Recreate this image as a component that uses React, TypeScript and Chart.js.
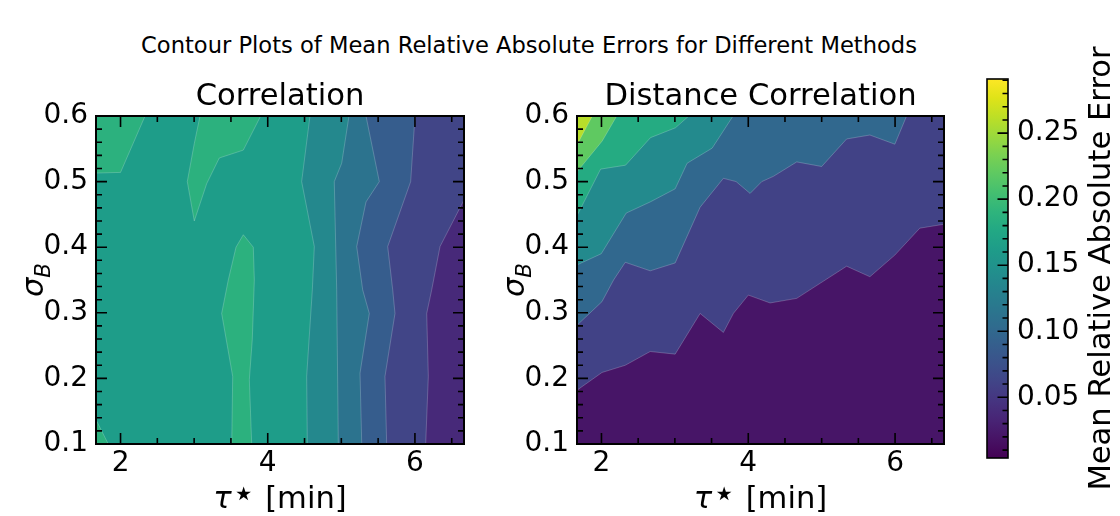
import React, { useEffect, useRef } from 'react';
import { Chart, registerables } from 'chart.js';

Chart.register(...registerables);

const FONT = "'DejaVu Sans', sans-serif";
Chart.defaults.font.family = FONT;
Chart.defaults.color = '#000';

type Pt = [number, number];

// ---------------- axes ----------------
const TAU_MIN = 5 / 3;
const TAU_MAX = 20 / 3;
const SIGMA_MIN = 0.1;
const SIGMA_MAX = 0.6;

const xTickLabels = [2, 4, 6];
const xMinorTicks = [2.5, 3, 3.5, 4.5, 5, 5.5, 6.5];
const yTickLabels = [0.1, 0.2, 0.3, 0.4, 0.5, 0.6];
const yMinorTicks = [
  0.12, 0.14, 0.16, 0.18, 0.22, 0.24, 0.26, 0.28, 0.32, 0.34,
  0.36, 0.38, 0.42, 0.44, 0.46, 0.48, 0.52, 0.54, 0.56, 0.58,
];

// ---------------- colour bar ----------------
const cbMin = 0.004;
const cbMax = 0.291;
const cbTickLabels = [0.05, 0.1, 0.15, 0.2, 0.25];
const cbMinorTicks = [
  0.01, 0.02, 0.03, 0.04, 0.06, 0.07, 0.08, 0.09, 0.11, 0.12, 0.13, 0.14,
  0.16, 0.17, 0.18, 0.19, 0.21, 0.22, 0.23, 0.24, 0.26, 0.27, 0.28, 0.29,
];

const viridis = [
  '#440154', '#471365', '#482475', '#463480', '#414487', '#3b528b', '#355f8d',
  '#2f6c8e', '#2a788e', '#25848e', '#21918c', '#1e9c89', '#22a884', '#2fb47c',
  '#44bf70', '#5ec962', '#7ad151', '#9bd93c', '#bddf26', '#dfe318', '#fde725',
];

// ---------------- Correlation panel (levels every 0.025) ----------------
const corrLevels = [0.025, 0.05, 0.075, 0.1, 0.125, 0.15, 0.175, 0.2];
// contour lines [tau, sigma], from bottom to top
const corrEdge050: Pt[] = [[6.146, 0.1], [6.182, 0.203], [6.16, 0.299], [6.228, 0.335], [6.341, 0.401], [6.667, 0.472]];
const corrEdge075: Pt[] = [[5.616, 0.1], [5.593, 0.203], [5.729, 0.299], [5.698, 0.335], [5.63, 0.401], [5.942, 0.5], [6.001, 0.6]];
const corrEdge100: Pt[] = [[5.277, 0.1], [5.254, 0.208], [5.38, 0.299], [5.29, 0.335], [5.209, 0.401], [5.335, 0.469], [5.516, 0.5], [5.335, 0.6]];
const corrEdge125: Pt[] = [[4.959, 0.1], [4.937, 0.335], [4.904, 0.5], [5.005, 0.528], [5.104, 0.6]];
const corrEdge150: Pt[] = [[4.538, 0.1], [4.529, 0.203], [4.606, 0.335], [4.633, 0.401], [4.461, 0.5], [4.574, 0.6]];
// islands above 0.175
const corrIsland1: Pt[] = [[1.667, 0.513], [2.0, 0.514], [2.333, 0.6], [1.667, 0.6]];
const corrIsland2: Pt[] = [[3.08, 0.6], [3.002, 0.558], [2.907, 0.5], [3.002, 0.44], [3.171, 0.497], [3.342, 0.536], [3.668, 0.548], [3.904, 0.6]];
const corrIsland3: Pt[] = [[3.511, 0.1], [3.524, 0.203], [3.374, 0.299], [3.464, 0.35], [3.569, 0.4], [3.668, 0.419], [3.804, 0.4], [3.818, 0.35], [3.79, 0.259], [3.75, 0.198], [3.782, 0.1]];
const corrIsland4: Pt[] = [[1.667, 0.1], [1.833, 0.1], [1.667, 0.137]];

// ---------------- Distance Correlation panel (levels every 0.04) ----------------
const dcorLevels = [0, 0.04, 0.08, 0.12, 0.16, 0.2, 0.24, 0.28];
// contour lines [tau, sigma], from left to right
const dcorEdge004: Pt[] = [[1.667, 0.182], [2.007, 0.209], [2.324, 0.22], [2.664, 0.241], [3.004, 0.237], [3.344, 0.299], [3.661, 0.27], [3.797, 0.299], [4.001, 0.327], [4.297, 0.315], [4.66, 0.322], [5.34, 0.371], [5.657, 0.355], [5.997, 0.388], [6.337, 0.429], [6.667, 0.435]];
const dcorEdge008: Pt[] = [[1.667, 0.281], [2.007, 0.317], [2.165, 0.35], [2.324, 0.377], [2.664, 0.364], [3.004, 0.376], [3.344, 0.461], [3.661, 0.505], [3.834, 0.5], [4.025, 0.482], [4.184, 0.5], [4.342, 0.508], [4.66, 0.53], [5.0, 0.523], [5.34, 0.565], [5.657, 0.571], [5.997, 0.557], [6.157, 0.6]];
const dcorEdge012: Pt[] = [[1.667, 0.373], [1.997, 0.39], [2.337, 0.452], [2.664, 0.469], [3.004, 0.489], [3.167, 0.528], [3.508, 0.551], [3.793, 0.6]];
const dcorEdge016: Pt[] = [[1.667, 0.448], [1.988, 0.519], [2.328, 0.525], [2.668, 0.567], [3.008, 0.582], [3.19, 0.6]];
const dcorEdge020: Pt[] = [[1.667, 0.515], [2.011, 0.562], [2.208, 0.6]];
const dcorEdge024: Pt[] = [[1.667, 0.556], [1.875, 0.6]];

// ---------------- helpers ----------------
function hexToRgb(h: string): number[] {
  return [1, 3, 5].map((i) => parseInt(h.slice(i, i + 2), 16));
}
function viridisAt(t: number): string {
  const c = Math.max(0, Math.min(1, t)) * (viridis.length - 1);
  const i = Math.min(viridis.length - 2, Math.floor(c));
  const f = c - i;
  const a = hexToRgb(viridis[i]);
  const b = hexToRgb(viridis[i + 1]);
  const m = a.map((v, k) => Math.round(v + (b[k] - v) * f));
  return `rgb(${m[0]},${m[1]},${m[2]})`;
}
function bandColor(levels: number[], k: number): string {
  const mid = (levels[k] + levels[k + 1]) / 2;
  return viridisAt((mid - cbMin) / (cbMax - cbMin));
}
const fullRect: Pt[] = [[TAU_MIN, SIGMA_MIN], [TAU_MAX, SIGMA_MIN], [TAU_MAX, SIGMA_MAX], [TAU_MIN, SIGMA_MAX]];
function superLevel(edge: Pt[]): Pt[] {
  const pts: Pt[] = [];
  const first = edge[0];
  const last = edge[edge.length - 1];
  if (first[0] > TAU_MIN + 1e-6) pts.push([TAU_MIN, first[1]]);
  pts.push(...edge);
  if (last[1] < SIGMA_MAX - 1e-6) pts.push([last[0], SIGMA_MAX]);
  pts.push([TAU_MIN, SIGMA_MAX]);
  return pts;
}

type Layer = { band: number; polys: Pt[][] };
const corrLayers: Layer[] = [
  { band: 0, polys: [fullRect] },
  { band: 1, polys: [superLevel(corrEdge050)] },
  { band: 2, polys: [superLevel(corrEdge075)] },
  { band: 3, polys: [superLevel(corrEdge100)] },
  { band: 4, polys: [superLevel(corrEdge125)] },
  { band: 5, polys: [superLevel(corrEdge150)] },
  { band: 6, polys: [corrIsland1, corrIsland2, corrIsland3, corrIsland4] },
];
const dcorLayers: Layer[] = [
  { band: 0, polys: [fullRect] },
  { band: 1, polys: [superLevel(dcorEdge004)] },
  { band: 2, polys: [superLevel(dcorEdge008)] },
  { band: 3, polys: [superLevel(dcorEdge012)] },
  { band: 4, polys: [superLevel(dcorEdge016)] },
  { band: 5, polys: [superLevel(dcorEdge020)] },
  { band: 6, polys: [superLevel(dcorEdge024)] },
];

type Part = { text: string; font: string; dy: number };
function drawParts(ctx: CanvasRenderingContext2D, parts: Part[], cx: number, baseY: number) {
  let total = 0;
  const widths = parts.map((p) => {
    ctx.font = p.font;
    const w = ctx.measureText(p.text).width;
    total += w;
    return w;
  });
  let x = cx - total / 2;
  ctx.textAlign = 'left';
  ctx.textBaseline = 'alphabetic';
  parts.forEach((p, i) => {
    ctx.font = p.font;
    ctx.fillText(p.text, x, baseY + p.dy);
    x += widths[i];
  });
}

const LABEL_SIZE = 30.6;
const MATH = `italic ${LABEL_SIZE}px 'DejaVu Sans'`;
const xLabelParts: Part[] = [
  { text: 'τ', font: MATH, dy: 0 },
  { text: '⋆', font: "38px 'DejaVu Sans'", dy: -2 },
  { text: ' [min]', font: `${LABEL_SIZE}px 'DejaVu Sans'`, dy: 0 },
];
const yLabelParts: Part[] = [
  { text: 'σ', font: MATH, dy: 0 },
  { text: 'B', font: `italic ${LABEL_SIZE * 0.7}px 'DejaVu Sans'`, dy: 6.5 },
];

function panelDecor(title: string) {
  return {
    id: 'panelDecor',
    afterDatasetsDraw(chart: any) {
      const { ctx, chartArea: a } = chart;
      const xs = chart.scales.x;
      const ys = chart.scales.y;
      ctx.save();
      ctx.strokeStyle = '#000';
      ctx.lineWidth = 1.6;
      ctx.beginPath();
      const xt = (v: number, len: number) => {
        const p = xs.getPixelForValue(v);
        ctx.moveTo(p, a.bottom); ctx.lineTo(p, a.bottom - len);
        ctx.moveTo(p, a.top); ctx.lineTo(p, a.top + len);
      };
      const yt = (v: number, len: number) => {
        const p = ys.getPixelForValue(v);
        ctx.moveTo(a.left, p); ctx.lineTo(a.left + len, p);
        ctx.moveTo(a.right, p); ctx.lineTo(a.right - len, p);
      };
      xTickLabels.forEach((v) => xt(v, 11));
      xMinorTicks.forEach((v) => xt(v, 6));
      yTickLabels.forEach((v) => yt(v, 11));
      yMinorTicks.forEach((v) => yt(v, 6));
      ctx.stroke();
      ctx.lineWidth = 2;
      ctx.strokeRect(a.left, a.top, a.right - a.left, a.bottom - a.top);
      ctx.restore();
    },
    afterDraw(chart: any) {
      const { ctx, chartArea: a } = chart;
      const cx = (a.left + a.right) / 2;
      ctx.save();
      ctx.fillStyle = '#000';
      ctx.font = `${LABEL_SIZE}px 'DejaVu Sans'`;
      ctx.textAlign = 'center';
      ctx.textBaseline = 'alphabetic';
      ctx.fillText(title, cx, 105);
      drawParts(ctx, xLabelParts, cx, 508);
      ctx.translate(a.left - 53, (a.top + a.bottom) / 2);
      ctx.rotate(-Math.PI / 2);
      drawParts(ctx, yLabelParts, 0, 0);
      ctx.restore();
    },
  };
}

function ContourPanel(props: { left: number; width: number; areaLeft: number; areaRight: number; title: string; levels: number[]; layers: Layer[] }) {
  const ref = useRef<HTMLCanvasElement>(null);
  useEffect(() => {
    const canvas = ref.current;
    if (!canvas) return;
    const datasets: any[] = [];
    props.layers.forEach((layer) => {
      layer.polys.forEach((poly) => {
        const idx = datasets.length;
        datasets.push({
          data: poly.map(([x, y]) => ({ x, y })),
          fill: 'shape',
          backgroundColor: bandColor(props.levels, layer.band),
          borderColor: 'rgba(255,255,255,0.3)',
          borderWidth: 0.7,
          pointRadius: 0,
          pointHoverRadius: 0,
          tension: 0,
          order: -idx,
        });
      });
    });
    const chart = new Chart(canvas, {
      type: 'line',
      data: { datasets },
      options: {
        responsive: false,
        animation: false,
        events: [],
        layout: { padding: { left: 0, right: props.width - props.areaRight, top: 116, bottom: 0 } },
        plugins: { legend: { display: false }, tooltip: { enabled: false }, title: { display: false } },
        scales: {
          x: {
            type: 'linear',
            min: TAU_MIN,
            max: TAU_MAX,
            afterBuildTicks: (s: any) => { s.ticks = xTickLabels.map((v) => ({ value: v })); },
            afterFit: (s: any) => { s.height = 72; },
            grid: { display: false, drawTicks: false },
            border: { display: false },
            ticks: { font: { size: 28 }, color: '#000', padding: 3, maxRotation: 0, autoSkip: false, callback: (v: any) => String(v) },
          },
          y: {
            type: 'linear',
            min: SIGMA_MIN,
            max: SIGMA_MAX,
            afterBuildTicks: (s: any) => { s.ticks = yTickLabels.map((v) => ({ value: v })); },
            afterFit: (s: any) => { s.width = props.areaLeft; },
            grid: { display: false, drawTicks: false },
            border: { display: false },
            ticks: { font: { size: 28 }, color: '#000', padding: 8, autoSkip: false, callback: (v: any) => Number(v).toFixed(1) },
          },
        },
      } as any,
      plugins: [panelDecor(props.title)],
    });
    return () => chart.destroy();
  }, []);
  return (
    <canvas
      ref={ref}
      width={props.width}
      height={516}
      style={{ position: 'absolute', left: props.left, top: 0, width: props.width, height: 516 }}
    />
  );
}

const cbDecor = {
  id: 'cbDecor',
  afterDatasetsDraw(chart: any) {
    const { ctx, chartArea: a } = chart;
    const ys = chart.scales.y;
    ctx.save();
    ctx.strokeStyle = '#000';
    ctx.lineWidth = 1.6;
    ctx.beginPath();
    cbTickLabels.forEach((v) => {
      const p = ys.getPixelForValue(v);
      ctx.moveTo(a.right, p); ctx.lineTo(a.right - 10.5, p);
    });
    cbMinorTicks.forEach((v) => {
      const p = ys.getPixelForValue(v);
      ctx.moveTo(a.right, p); ctx.lineTo(a.right - 5.5, p);
    });
    ctx.stroke();
    ctx.lineWidth = 1.6;
    ctx.strokeRect(a.left, a.top, a.right - a.left, a.bottom - a.top);
    ctx.restore();
  },
  afterDraw(chart: any) {
    const { ctx, chartArea: a } = chart;
    ctx.save();
    ctx.fillStyle = '#000';
    ctx.font = `${LABEL_SIZE}px 'DejaVu Sans'`;
    ctx.textAlign = 'center';
    ctx.textBaseline = 'middle';
    ctx.translate(132, (a.top + a.bottom) / 2);
    ctx.rotate(-Math.PI / 2);
    ctx.fillText('Mean Relative Absolute Error', 0, 0);
    ctx.restore();
  },
};

function ColorBar(props: { left: number; width: number }) {
  const ref = useRef<HTMLCanvasElement>(null);
  useEffect(() => {
    const canvas = ref.current;
    if (!canvas) return;
    const chart = new Chart(canvas, {
      type: 'bar',
      data: {
        labels: ['cb'],
        datasets: [
          {
            data: [[cbMin, cbMax]] as any,
            backgroundColor: (c: any) => {
              const a = c.chart.chartArea;
              if (!a) return viridis[0];
              const g = c.chart.ctx.createLinearGradient(0, a.bottom, 0, a.top);
              viridis.forEach((col, i) => g.addColorStop(i / (viridis.length - 1), col));
              return g;
            },
            borderWidth: 0,
            barPercentage: 1,
            categoryPercentage: 1,
          },
        ],
      },
      options: {
        responsive: false,
        animation: false,
        events: [],
        layout: { padding: { left: 17, right: 0, top: 79, bottom: 58 } },
        plugins: { legend: { display: false }, tooltip: { enabled: false } },
        scales: {
          x: { display: false },
          y: {
            position: 'right',
            min: cbMin,
            max: cbMax,
            afterBuildTicks: (s: any) => { s.ticks = cbTickLabels.map((v) => ({ value: v })); },
            afterFit: (s: any) => { s.width = props.width - 38; },
            grid: { display: false, drawTicks: false },
            border: { display: false },
            ticks: { font: { size: 28 }, color: '#000', padding: 9, autoSkip: false, callback: (v: any) => Number(v).toFixed(2) },
          },
        },
      } as any,
      plugins: [cbDecor],
    });
    return () => chart.destroy();
  }, []);
  return (
    <canvas
      ref={ref}
      width={props.width}
      height={516}
      style={{ position: 'absolute', left: props.left, top: 0, width: props.width, height: 516 }}
    />
  );
}

export default function App() {
  return (
    <div style={{ position: 'absolute', left: 0, top: 0, width: 1120, height: 516, background: '#fff', overflow: 'hidden' }}>
      <div
        style={{
          position: 'absolute', left: 0, top: 34, width: 1058, textAlign: 'center',
          fontFamily: FONT, fontSize: 22.6, lineHeight: '22.6px', color: '#000', whiteSpace: 'nowrap',
        }}
      >
        Contour Plots of Mean Relative Absolute Errors for Different Methods
      </div>
      <ContourPanel left={0} width={480} areaLeft={96} areaRight={464} title="Correlation" levels={corrLevels} layers={corrLayers} />
      <ContourPanel left={480} width={490} areaLeft={97} areaRight={464} title="Distance Correlation" levels={dcorLevels} layers={dcorLayers} />
      <ColorBar left={970} width={150} />
    </div>
  );
}
